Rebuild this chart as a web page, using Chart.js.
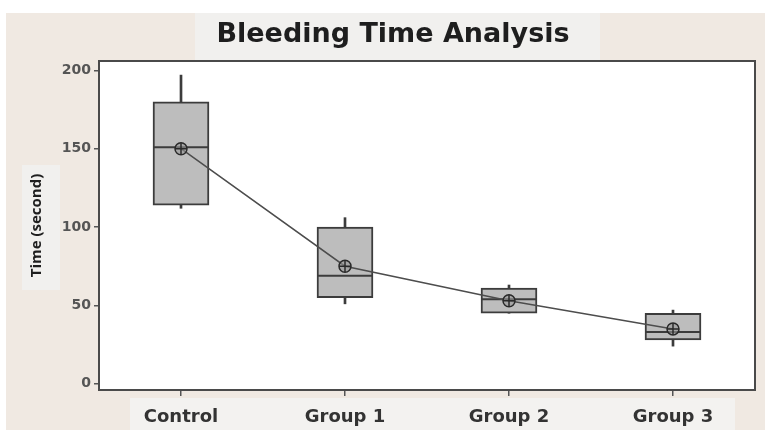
<!DOCTYPE html>
<html>
<head>
<meta charset="utf-8">
<script src="https://cdn.jsdelivr.net/npm/chart.js@4/dist/chart.umd.min.js"></script>
<style>
    html, body { margin: 0; padding: 0; background: #fff; }
</style>
</head>
<body>
<canvas id="bleeding" width="765" height="430"></canvas>
<script>
// values
const groups = ["Control", "Group 1", "Group 2", "Group 3"]
const whiskerLow = [112, 51, 45, 24]
const q1 = [114, 55, 45, 28]
const medians = [151, 69, 54, 33]
const q3 = [180, 100, 61, 45]
const whiskerHigh = [197, 106, 63, 47]
const means = [150, 75, 53, 35]
const yTicks = [0, 50, 100, 150, 200]

const boxGrey = "#bdbdbd"
const edgeCol = "#3c3c3c"

// panels behind the chart, like the pasted minitab graph
const backdrop = {
    id: 'backdrop',
    beforeDraw(chart) {
        const ctx = chart.ctx
        const a = chart.chartArea
        ctx.save()
        ctx.fillStyle = "#ffffff"
        ctx.fillRect(0, 0, chart.width, chart.height)
        ctx.fillStyle = "#f0e9e2"
        ctx.fillRect(6, 13, chart.width - 6, chart.height - 13)
        ctx.fillStyle = "#f1f0ee"
        ctx.fillRect(195, 13, 405, 47)
        ctx.fillRect(22, 165, 38, 125)
        ctx.fillStyle = "#f3f2f0"
        ctx.fillRect(130, 398, 605, 32)
        ctx.fillStyle = "#ffffff"
        ctx.fillRect(a.left, a.top, a.right - a.left, a.bottom - a.top)
        ctx.restore()
    },
    afterDraw(chart) {
        const ctx = chart.ctx
        const a = chart.chartArea
        ctx.save()
        ctx.strokeStyle = "#4a4a4a"
        ctx.lineWidth = 2
        ctx.strokeRect(a.left, a.top, a.right - a.left, a.bottom - a.top)
        ctx.restore()
    }
}

const pair = (lo, hi) => lo.map((v, i) => [v, hi[i]])

var ctx = document.getElementById('bleeding').getContext('2d');
var bleedingChart = new Chart(ctx, {
    type: 'bar',
    data: {
        labels: groups,
        datasets: [
            {
                label: 'Box',
                data: pair(q1, q3),
                backgroundColor: boxGrey,
                borderColor: edgeCol,
                borderWidth: 2,
                borderSkipped: false,
                barThickness: 56,
                grouped: false,
                order: 5
            },
            {
                label: 'Upper whisker',
                data: pair(q3, whiskerHigh),
                backgroundColor: edgeCol,
                borderWidth: 0,
                barThickness: 2,
                grouped: false,
                order: 6
            },
            {
                label: 'Lower whisker',
                data: pair(whiskerLow, q1),
                backgroundColor: edgeCol,
                borderWidth: 0,
                barThickness: 2,
                grouped: false,
                order: 6
            },
            {
                type: 'line',
                label: 'Median',
                data: medians,
                showLine: false,
                pointStyle: 'line',
                pointRadius: 28,
                pointBorderWidth: 2,
                pointBorderColor: edgeCol,
                order: 3
            },
            {
                type: 'line',
                label: 'Mean',
                data: means,
                borderColor: "#4d4d4d",
                borderWidth: 1.5,
                tension: 0,
                pointStyle: 'circle',
                pointRadius: 6,
                pointBackgroundColor: "rgba(150,150,150,0.6)",
                pointBorderColor: "#2a2a2a",
                pointBorderWidth: 1.5,
                order: 1
            },
            {
                type: 'line',
                label: 'Mean cross',
                data: means,
                showLine: false,
                pointStyle: 'cross',
                pointRadius: 6,
                pointBorderColor: "#2a2a2a",
                pointBorderWidth: 1.5,
                order: 0
            }
        ]
    },
    options: {
        responsive: false,
        animation: false,
        layout: {
            autoPadding: false,
            padding: { left: 31, right: 10, top: 0, bottom: 0 }
        },
        plugins: {
            legend: { display: false },
            tooltip: { enabled: false },
            title: {
                display: true,
                text: "Bleeding Time Analysis",
                color: "#1e1e1e",
                font: { family: "DejaVu Sans", size: 27, weight: 'bold', lineHeight: 1.2 },
                padding: { top: 19, bottom: 9.6 }
            }
        },
        scales: {
            x: {
                grid: {
                    display: true,
                    offset: false,
                    drawOnChartArea: false,
                    drawTicks: true,
                    tickLength: 6,
                    color: "#555",
                    lineWidth: 1.5
                },
                border: { display: false },
                ticks: {
                    color: "#333",
                    padding: 11,
                    font: { family: "DejaVu Sans", size: 18, weight: 'bold' }
                },
                afterFit: (scale) => {
                    scale.height = 40
                    scale.paddingLeft = 0
                    scale.paddingRight = 0
                }
            },
            y: {
                min: -4,
                max: 206,
                afterBuildTicks: (scale) => {
                    scale.ticks = yTicks.map(v => ({ value: v }))
                },
                grid: {
                    display: true,
                    drawOnChartArea: false,
                    drawTicks: true,
                    tickLength: 5,
                    color: "#555",
                    lineWidth: 1.5
                },
                border: { display: false },
                ticks: {
                    color: "#555",
                    padding: 3,
                    font: { family: "DejaVu Sans", size: 14, weight: 'bold' }
                },
                title: {
                    display: true,
                    text: "Time (second)",
                    color: "#1e1e1e",
                    padding: { top: -3, bottom: 0 },
                    font: { family: "Open Sans", size: 15, weight: 'bold' }
                },
                afterFit: (scale) => {
                    scale.width = 68
                    scale.paddingTop = 0
                    scale.paddingBottom = 0
                }
            }
        }
    },
    plugins: [backdrop]
});
</script>
</body>
</html>
